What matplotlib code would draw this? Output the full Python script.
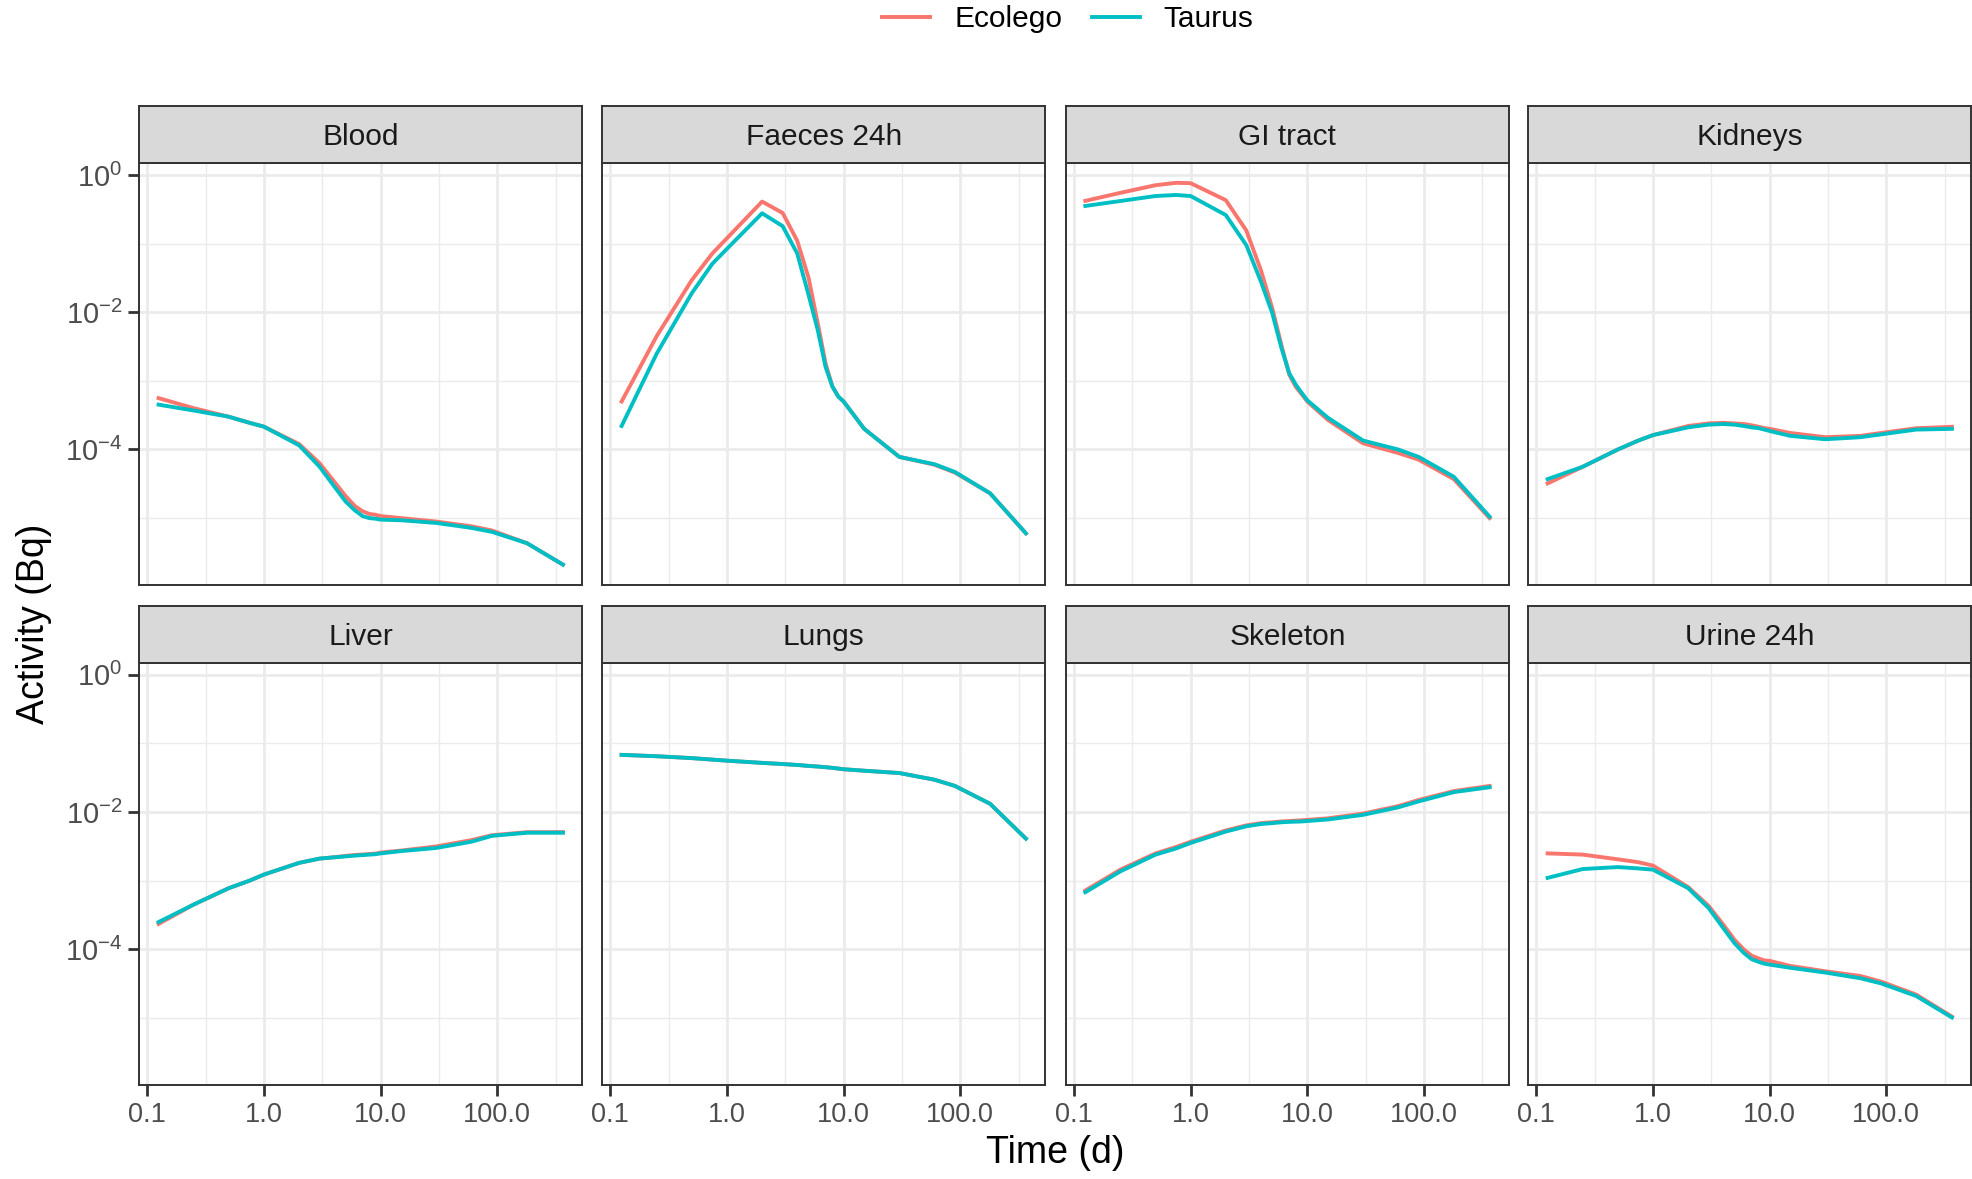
import matplotlib
matplotlib.use('Agg')
import matplotlib.pyplot as plt
from matplotlib.ticker import FixedLocator, NullFormatter

plt.rcParams['font.family'] = ['Liberation Sans', 'DejaVu Sans']
plt.rcParams['mathtext.default'] = 'regular'

# sampling times (days)
time_d = [0.125, 0.25, 0.5, 0.75, 1, 2, 3, 4, 5, 6, 7, 8, 9, 10, 15, 30, 60, 90, 180, 365]

compartments = ['Blood', 'Faeces 24h', 'GI tract', 'Kidneys',
                'Liver', 'Lungs', 'Skeleton', 'Urine 24h']
models = ['Ecolego', 'Taurus']

# activity (Bq)
blood_ecolego = [5.6e-4, 4.0e-4, 3.0e-4, 2.45e-4, 2.15e-4, 1.2e-4, 6.3e-5, 3.4e-5, 2.1e-5, 1.5e-5,
                 1.26e-5, 1.15e-5, 1.12e-5, 1.07e-5, 1.0e-5, 8.9e-6, 7.6e-6, 6.6e-6, 4.3e-6, 2.1e-6]
blood_taurus = [4.5e-4, 3.7e-4, 3.0e-4, 2.45e-4, 2.15e-4, 1.15e-4, 5.6e-5, 2.9e-5, 1.75e-5, 1.3e-5,
                1.07e-5, 1.0e-5, 9.8e-6, 9.5e-6, 9.3e-6, 8.5e-6, 7.2e-6, 6.3e-6, 4.3e-6, 2.1e-6]

faeces_ecolego = [5.0e-4, 4.5e-3, 2.95e-2, 7.2e-2, 0.12, 0.41, 0.28, 0.11, 3.2e-2, 6.9e-3,
                  1.8e-3, 8.3e-4, 5.9e-4, 5.0e-4, 2.0e-4, 7.8e-5, 6.0e-5, 4.6e-5, 2.3e-5, 6.0e-6]
faeces_taurus = [2.2e-4, 2.5e-3, 1.9e-2, 5.1e-2, 8.4e-2, 0.277, 0.18, 7.2e-2, 1.8e-2, 5.5e-3,
                 1.6e-3, 8.3e-4, 5.9e-4, 5.0e-4, 2.0e-4, 7.8e-5, 6.1e-5, 4.7e-5, 2.3e-5, 6.0e-6]

gi_ecolego = [0.42, 0.55, 0.71, 0.77, 0.76, 0.43, 0.155, 4.1e-2, 1.15e-2, 3.3e-3,
              1.23e-3, 8.1e-4, 6.3e-4, 5.0e-4, 2.7e-4, 1.23e-4, 8.9e-5, 7.1e-5, 3.7e-5, 1.0e-5]
gi_taurus = [0.354, 0.418, 0.494, 0.512, 0.494, 0.261, 9.5e-2, 2.8e-2, 9.8e-3, 3.0e-3,
             1.29e-3, 8.7e-4, 6.6e-4, 5.2e-4, 2.9e-4, 1.35e-4, 1.0e-4, 7.8e-5, 4.0e-5, 1.05e-5]

kidneys_ecolego = [3.2e-5, 5.6e-5, 1.0e-4, 1.35e-4, 1.62e-4, 2.2e-4, 2.4e-4, 2.45e-4, 2.4e-4, 2.35e-4,
                   2.25e-4, 2.15e-4, 2.05e-4, 2.0e-4, 1.74e-4, 1.51e-4, 1.58e-4, 1.74e-4, 2.04e-4, 2.14e-4]
kidneys_taurus = [3.7e-5, 5.6e-5, 1.0e-4, 1.35e-4, 1.62e-4, 2.1e-4, 2.3e-4, 2.35e-4, 2.3e-4, 2.2e-4,
                  2.1e-4, 2.05e-4, 1.95e-4, 1.86e-4, 1.58e-4, 1.41e-4, 1.51e-4, 1.66e-4, 1.95e-4, 2.0e-4]

liver_ecolego = [2.35e-4, 4.5e-4, 7.8e-4, 1.0e-3, 1.23e-3, 1.82e-3, 2.1e-3, 2.2e-3, 2.3e-3, 2.37e-3,
                 2.41e-3, 2.45e-3, 2.48e-3, 2.57e-3, 2.75e-3, 3.16e-3, 3.9e-3, 4.6e-3, 5.1e-3, 5.1e-3]
liver_taurus = [2.5e-4, 4.5e-4, 7.8e-4, 1.0e-3, 1.23e-3, 1.82e-3, 2.1e-3, 2.19e-3, 2.26e-3, 2.32e-3,
                2.36e-3, 2.4e-3, 2.43e-3, 2.5e-3, 2.7e-3, 3.0e-3, 3.7e-3, 4.5e-3, 5.0e-3, 5.0e-3]

lungs_ecolego = [6.8e-2, 6.5e-2, 6.1e-2, 5.8e-2, 5.6e-2, 5.2e-2, 5.0e-2, 4.85e-2, 4.7e-2, 4.6e-2,
                 4.5e-2, 4.4e-2, 4.3e-2, 4.2e-2, 4.0e-2, 3.7e-2, 2.96e-2, 2.4e-2, 1.32e-2, 4.1e-3]
lungs_taurus = [6.8e-2, 6.5e-2, 6.1e-2, 5.8e-2, 5.6e-2, 5.2e-2, 5.0e-2, 4.85e-2, 4.7e-2, 4.6e-2,
                4.5e-2, 4.4e-2, 4.3e-2, 4.2e-2, 4.0e-2, 3.7e-2, 2.96e-2, 2.4e-2, 1.32e-2, 4.1e-3]

skeleton_ecolego = [7.2e-4, 1.45e-3, 2.5e-3, 3.1e-3, 3.7e-3, 5.4e-3, 6.4e-3, 6.9e-3, 7.1e-3, 7.3e-3,
                    7.4e-3, 7.5e-3, 7.6e-3, 7.7e-3, 8.1e-3, 9.5e-3, 1.22e-2, 1.5e-2, 2.02e-2, 2.4e-2]
skeleton_taurus = [6.8e-4, 1.37e-3, 2.4e-3, 2.95e-3, 3.55e-3, 5.2e-3, 6.2e-3, 6.7e-3, 6.9e-3, 7.1e-3,
                   7.2e-3, 7.25e-3, 7.3e-3, 7.4e-3, 7.8e-3, 9.1e-3, 1.17e-2, 1.43e-2, 1.95e-2, 2.3e-2]

urine_ecolego = [2.5e-3, 2.4e-3, 2.05e-3, 1.86e-3, 1.66e-3, 8.1e-4, 4.3e-4, 2.3e-4, 1.38e-4, 1.0e-4,
                 8.1e-5, 7.4e-5, 6.9e-5, 6.8e-5, 5.75e-5, 4.8e-5, 4.1e-5, 3.4e-5, 2.2e-5, 1.05e-5]
urine_taurus = [1.1e-3, 1.48e-3, 1.58e-3, 1.51e-3, 1.45e-3, 7.8e-4, 4.0e-4, 2.05e-4, 1.23e-4, 8.9e-5,
                7.2e-5, 6.6e-5, 6.2e-5, 6.0e-5, 5.4e-5, 4.6e-5, 3.8e-5, 3.2e-5, 2.1e-5, 1.02e-5]

series = {
    'Blood': (blood_ecolego, blood_taurus),
    'Faeces 24h': (faeces_ecolego, faeces_taurus),
    'GI tract': (gi_ecolego, gi_taurus),
    'Kidneys': (kidneys_ecolego, kidneys_taurus),
    'Liver': (liver_ecolego, liver_taurus),
    'Lungs': (lungs_ecolego, lungs_taurus),
    'Skeleton': (skeleton_ecolego, skeleton_taurus),
    'Urine 24h': (urine_ecolego, urine_taurus),
}

colors = {'Ecolego': '#F8766D', 'Taurus': '#00BFC4'}

x_ticks = [0.1, 1, 10, 100]
x_labels = ['0.1', '1.0', '10.0', '100.0']
x_minor = [10 ** -0.5, 10 ** 0.5, 10 ** 1.5, 10 ** 2.5]
y_ticks = [1, 1e-2, 1e-4]
y_labels = ['$10^{0}$', '$10^{-2}$', '$10^{-4}$']
y_minor = [1e-1, 1e-3, 1e-5]

W, H = 1972, 1179
fig = plt.figure(figsize=(W / 100, H / 100), dpi=100)


def box(x0, y0, x1, y1):
    # pixel box (top-left origin) -> figure fraction
    return [x0 / W, 1 - y1 / H, (x1 - x0) / W, (y1 - y0) / H]


col_left = [139.3, 602.3, 1066, 1528.3]
panel_w = 442.7
strip_top = [106, 606]
panel_top = [163, 662.7]
panel_bot = [585, 1085]

grey20 = '#333333'
for i, name in enumerate(compartments):
    r, c = divmod(i, 4)
    x0 = col_left[c]
    ax = fig.add_axes(box(x0, panel_top[r], x0 + panel_w, panel_bot[r]))
    ax.set_xscale('log')
    ax.set_yscale('log')
    ax.set_xlim(10 ** -1.0686, 10 ** 2.726)
    ax.set_ylim(10 ** -5.975, 10 ** 0.175)

    ax.xaxis.set_major_locator(FixedLocator(x_ticks))
    ax.xaxis.set_minor_locator(FixedLocator(x_minor))
    ax.yaxis.set_major_locator(FixedLocator(y_ticks))
    ax.yaxis.set_minor_locator(FixedLocator(y_minor))
    ax.xaxis.set_minor_formatter(NullFormatter())
    ax.yaxis.set_minor_formatter(NullFormatter())
    ax.grid(which='major', color='#EBEBEB', linewidth=2.0)
    ax.grid(which='minor', color='#EBEBEB', linewidth=1.0)
    ax.set_axisbelow(True)

    ecolego_vals, taurus_vals = series[name]
    ax.plot(time_d, ecolego_vals, color=colors['Ecolego'], linewidth=2.8, label='Ecolego')
    ax.plot(time_d, taurus_vals, color=colors['Taurus'], linewidth=2.8, label='Taurus')

    for sp in ax.spines.values():
        sp.set_color(grey20)
        sp.set_linewidth(1.4)

    ax.tick_params(which='minor', length=0)
    ax.tick_params(which='major', length=8, width=2, color=grey20,
                   labelsize=19.5, labelcolor='#4D4D4D', pad=4)

    if r == 1:
        ax.set_xticklabels(x_labels)
    else:
        ax.tick_params(axis='x', which='major', length=0, labelbottom=False)
    if c == 0:
        ax.set_yticklabels(y_labels, fontsize=21)
    else:
        ax.tick_params(axis='y', which='major', length=0, labelleft=False)

    # facet strip
    sax = fig.add_axes(box(x0, strip_top[r], x0 + panel_w, panel_top[r]))
    sax.set_facecolor('#D9D9D9')
    sax.set_xticks([])
    sax.set_yticks([])
    for sp in sax.spines.values():
        sp.set_color(grey20)
        sp.set_linewidth(1.4)
    sax.text(0.5, 0.46, name, ha='center', va='center', fontsize=21.5,
             color='#1A1A1A', transform=sax.transAxes)

handles, labels = ax.get_legend_handles_labels()
fig.legend(handles, labels, loc='center', bbox_to_anchor=(1068 / W, 1 - 19 / H),
           ncol=2, frameon=False, fontsize=21.5, handlelength=1.6,
           columnspacing=1.0, handletextpad=0.8)

fig.text(1055 / W, 1 - 1153 / H, 'Time (d)', ha='center', va='center', fontsize=27)
fig.text(34 / W, 1 - 624 / H, 'Activity (Bq)', ha='center', va='center',
         fontsize=27, rotation=90)

fig.savefig('out.png', dpi=100)
